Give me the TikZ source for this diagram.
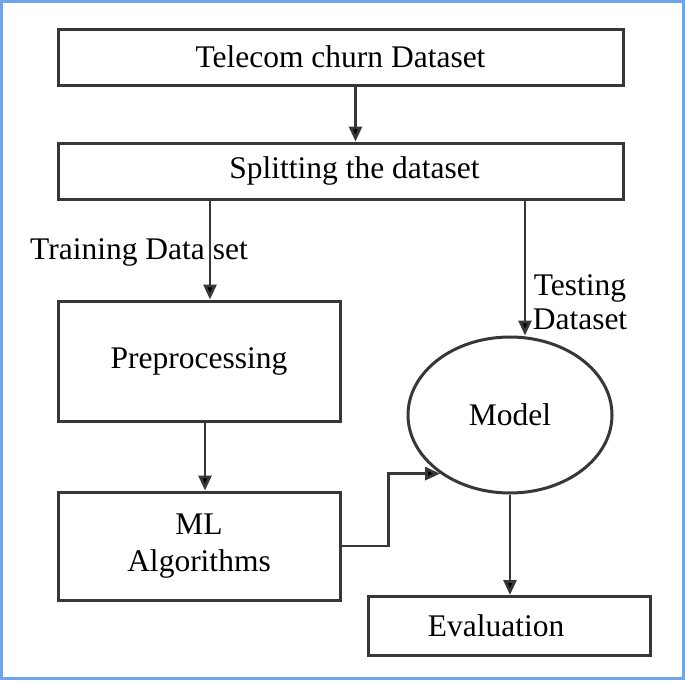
\documentclass[tikz,border=0pt]{standalone}
\usepackage{fontspec}
\setmainfont{Liberation Serif}
\usepackage{tikz}
\usetikzlibrary{arrows.meta}
\usetikzlibrary{shapes.geometric}

\definecolor{frameblue}{RGB}{110,165,230}
\definecolor{linegray}{RGB}{55,55,55}

\begin{document}
\begin{tikzpicture}[x=1pt,y=-1pt,
    box/.style={draw=linegray,line width=3pt,inner sep=0pt,align=center,font=\fontsize{31.5}{37}\selectfont},
    arr/.style={draw=linegray,line width=2.8pt,-{Triangle[length=15pt,width=13pt,fill=black]}},
    lbl/.style={inner sep=0pt,align=center,font=\fontsize{31.5}{34}\selectfont}]

    \useasboundingbox (0,0) rectangle (685,680);
    \draw[frameblue,line width=3pt] (1.5,1.5) rectangle (683.5,678.5);


    \node[box,minimum width=565pt,minimum height=56pt]            (data)  at (340.5, 57)   {Telecom churn Dataset};
    \node[box,minimum width=565pt,minimum height=56pt]            (split) at (340.5, 171)  {\hspace*{28pt}Splitting the dataset};
    \node[box,minimum width=282pt,minimum height=120pt]           (prep)  at (199, 361)    {Preprocessing};
    \node[box,minimum width=282pt,minimum height=108pt]           (ml)    at (199, 546)    {ML\\Algorithms};
    \node[box,ellipse,minimum width=204pt,minimum height=156pt]   (model) at (510, 415)    {Model};
    \node[box,minimum width=282pt,minimum height=59pt]            (eval)  at (509, 626)    {Evaluation\hspace*{26pt}};

    \node[lbl]   (train) at (139, 252)   {Training Data set};
    \node[lbl]   (test)  at (580, 302)   {Testing\\Dataset};


    \draw[arr] ([xshift=15pt]data.south) -- ([xshift=15pt]split.north);
    \draw[arr] (split.south -| 210,0) -- (prep.north -| 210,0);
    \draw[arr] (split.south -| 525,0) -- (model.north -| 525,0);
    \draw[arr] ([xshift=6pt]prep.south) -- ([xshift=6pt]ml.north);
    \draw[arr] (ml.east) -- ++(47,0) |- (model.220);
    \draw[arr] (model.south) -- (eval.north -| model.south);
\end{tikzpicture}
\end{document}
